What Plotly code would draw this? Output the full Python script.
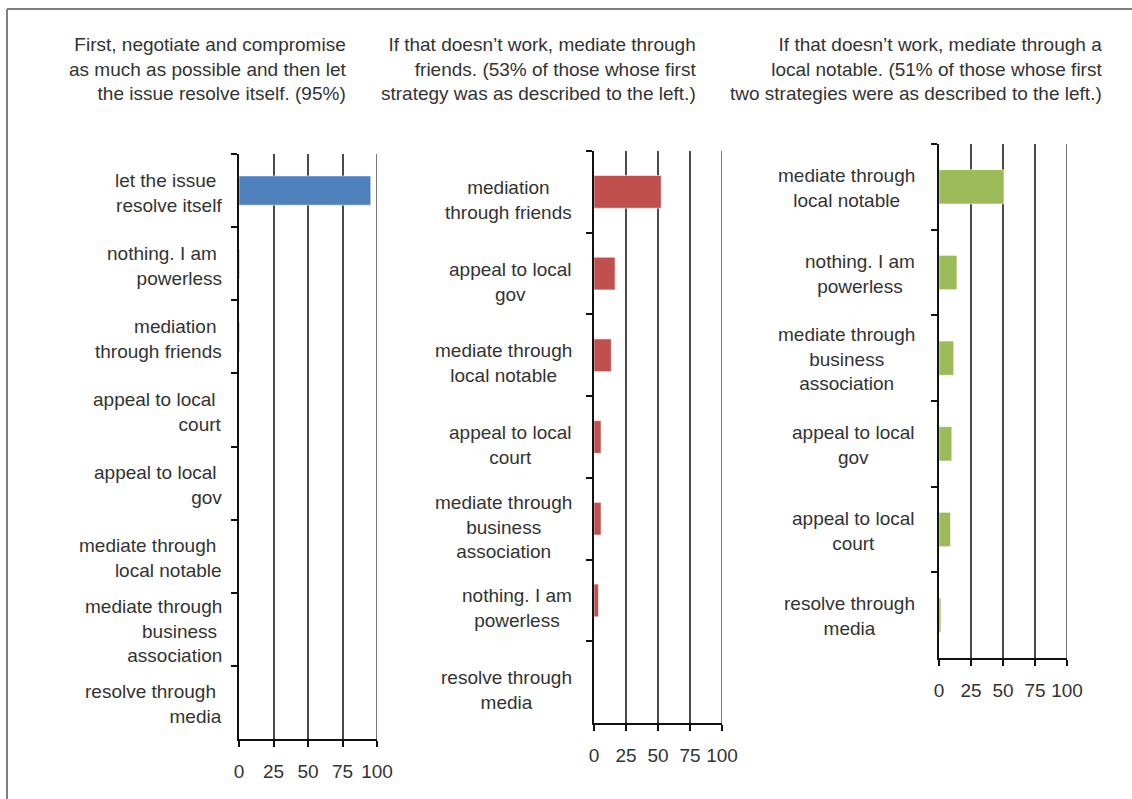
import plotly.graph_objects as go

W, H = 1132, 799

# ---------------- data ----------------
p1_categories = ["let the issue resolve itself", "nothing. I am powerless", "mediation through friends",
                 "appeal to local court", "appeal to local gov", "mediate through local notable",
                 "mediate through business association", "resolve through media"]
p1_labels = ["let the issue\u00a0<br>resolve itself", "nothing. I am\u00a0<br>powerless",
             "mediation\u00a0<br>through friends", "appeal to local\u00a0<br>court",
             "appeal to local\u00a0<br>gov", "mediate through\u00a0<br>local notable",
             "mediate through<br>business\u00a0<br>association", "resolve through\u00a0<br>media"]
p1_values = [95.5, 0.5, 0.5, 0, 0, 0, 0, 0]

p2_categories = ["mediation through friends", "appeal to local gov", "mediate through local notable",
                 "appeal to local court", "mediate through business association",
                 "nothing. I am powerless", "resolve through media"]
p2_labels = ["mediation<br>through friends", "appeal to local<br>gov", "mediate through<br>local notable",
             "appeal to local<br>court", "mediate through<br>business<br>association",
             "nothing. I am<br>powerless", "resolve through<br>media"]
p2_values = [52.5, 16.5, 13.5, 5.5, 5.5, 3.5, 0]

p3_categories = ["mediate through local notable", "nothing. I am powerless",
                 "mediate through business association", "appeal to local gov",
                 "appeal to local court", "resolve through media"]
p3_labels = ["mediate through<br>local notable", "nothing. I am<br>powerless",
             "mediate through<br>business<br>association", "appeal to local<br>gov",
             "appeal to local<br>court", "resolve through<br>media"]
p3_values = [50.5, 14, 11.5, 10, 9, 1.5]

titles = [
    "First, negotiate and compromise<br>as much as possible and then let<br>the issue resolve itself. (95%)",
    "If that doesn\u2019t work, mediate through<br>friends. (53% of those whose first<br>strategy was as described to the left.)",
    "If that doesn\u2019t work, mediate through a<br>local notable. (51% of those whose first<br>two strategies were as described to the left.)",
]
x_ticks = [0, 25, 50, 75, 100]
x_ticktext = ["0", "25", "50", "75", "100"]

# ---------------- style / layout ----------------
FONT = "Liberation Sans, Arial, sans-serif"
TXT = "#333333"
FS = 19
GRID = "#4a4a4a"
colors = ["#4F81BD", "#C0504D", "#9BBB59"]

# pixel boxes of each plot area: (left, right, top, bottom)
boxes = [(239, 377, 154, 739), (594, 722, 151, 723), (939, 1067, 144, 658)]
label_cfg = [  # x px, xanchor, align, yshift
    (224, "right", "right", -2),
    (574, "right", "center", -8),
    (917, "right", "center", -1),
]
title_cfg = [(348, 69), (698, 69), (1104, 69)]

def px_x(v):
    return v / W

def px_y(v):
    return 1 - v / H

fig = go.Figure()
panels = [(p1_categories, p1_labels, p1_values), (p2_categories, p2_labels, p2_values),
          (p3_categories, p3_labels, p3_values)]

annotations = []
shapes = []
for i, (cats, labs, vals) in enumerate(panels):
    sfx = "" if i == 0 else str(i + 1)
    fig.add_trace(go.Bar(
        y=cats, x=vals, orientation="h", width=0.4,
        marker=dict(color=colors[i], line=dict(color="rgba(255,255,255,0.55)", width=1)),
        xaxis="x" + sfx, yaxis="y" + sfx, showlegend=False, hoverinfo="x+y",
    ))
    l, r, t, b = boxes[i]
    fig.update_layout(**{
        "xaxis" + sfx: dict(
            domain=[px_x(l), px_x(r)], anchor="y" + sfx, range=[0, 100],
            tickvals=x_ticks, ticktext=x_ticktext, ticks="outside", ticklen=6,
            tickcolor="#111111", tickwidth=1.5, showline=True, linecolor="#111111",
            linewidth=2, showgrid=True, gridcolor=GRID, gridwidth=1.5,
            zeroline=False, automargin=False, ticklabelstandoff=8,
            tickfont=dict(family=FONT, size=FS, color=TXT), fixedrange=True,
        ),
        "yaxis" + sfx: dict(
            domain=[px_y(b), px_y(t)], anchor="x" + sfx, type="category",
            categoryorder="array", categoryarray=cats, range=[len(cats) - 0.5, -0.5],
            tickson="boundaries", ticks="outside", ticklen=6, tickcolor="#111111",
            tickwidth=1.5, showticklabels=False, showline=True, linecolor="#111111",
            linewidth=2, showgrid=False, zeroline=False, automargin=False, fixedrange=True,
        ),
    })
    # gridline at the end of the range (plotly drops it at the boundary)
    shapes.append(dict(type="line", xref="x" + sfx, yref="y" + sfx + " domain",
                       x0=x_ticks[-1], x1=x_ticks[-1], y0=0, y1=1, layer="below",
                       line=dict(color=GRID, width=1.5)))
    lx, xa, al, ys = label_cfg[i]
    for c, lab in zip(cats, labs):
        annotations.append(dict(
            text=lab, x=px_x(lx), xref="paper", y=c, yref="y" + sfx,
            xanchor=xa, yanchor="middle", align=al, yshift=ys, showarrow=False,
            font=dict(family=FONT, size=FS, color=TXT),
        ))
    tx, ty = title_cfg[i]
    annotations.append(dict(
        text=titles[i], x=px_x(tx), xref="paper", y=px_y(ty), yref="paper",
        xanchor="right", yanchor="middle", align="right", showarrow=False,
        font=dict(family=FONT, size=FS, color=TXT),
    ))

shapes += [
    dict(type="line", xref="paper", yref="paper", x0=px_x(7), x1=1, y0=px_y(9), y1=px_y(9),
         line=dict(color="#808080", width=2)),
    dict(type="line", xref="paper", yref="paper", x0=px_x(7), x1=px_x(7), y0=px_y(9), y1=0,
         line=dict(color="#808080", width=2)),
]

fig.update_layout(
    width=W, height=H, margin=dict(l=0, r=0, t=0, b=0),
    paper_bgcolor="white", plot_bgcolor="white", template="none",
    font=dict(family=FONT, size=FS, color=TXT),
    annotations=annotations, shapes=shapes, bargap=0.6,
)

fig.write_html("out.html", config={"displayModeBar": False},
               post_script="document.body.style.margin='0';")
